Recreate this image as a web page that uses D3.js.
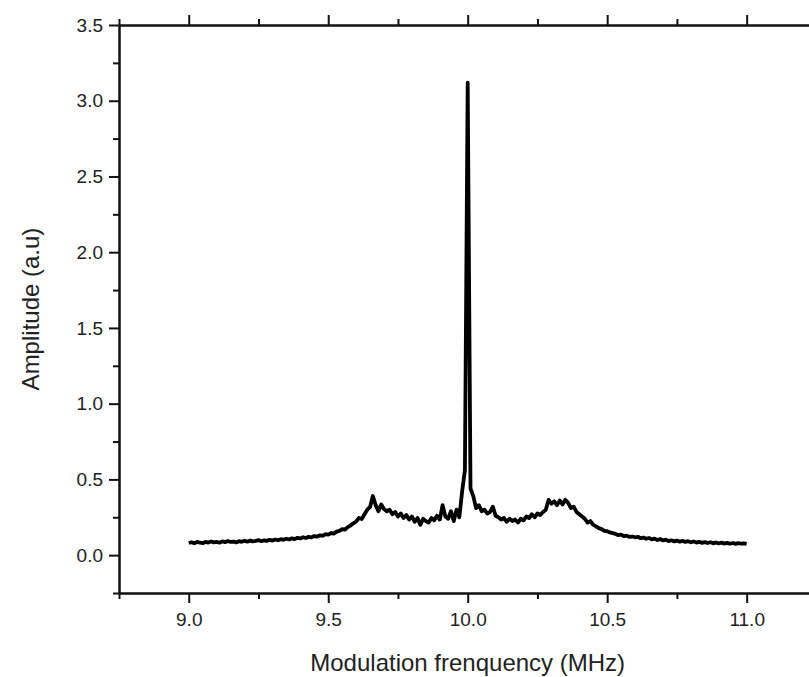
<!DOCTYPE html>
<html>
<head>
<meta charset="utf-8">
<script src="https://cdn.jsdelivr.net/npm/d3@7"></script>
<style>
  body { margin: 0; background: #fff; }
  svg { display: block; font-family: "Liberation Sans", Arial, sans-serif; }
</style>
</head>
<body>
<svg id="chart"></svg>
<script>
// spectrum sampled every 0.01 MHz from 9.00 to 11.00
const freqStart = 9.0;
const freqStep = 0.01;
const amplitude = [
  0.080, 0.085, 0.078, 0.088, 0.082, 0.079, 0.087, 0.083, 0.090, 0.084,
  0.088, 0.082, 0.091, 0.086, 0.093, 0.087, 0.090, 0.084, 0.092, 0.088,
  0.095, 0.089, 0.097, 0.091, 0.094, 0.099, 0.092, 0.098, 0.094, 0.101,
  0.096, 0.103, 0.098, 0.105, 0.101, 0.108, 0.103, 0.111, 0.106, 0.114,
  0.110, 0.118, 0.113, 0.121, 0.117, 0.126, 0.122, 0.131, 0.128, 0.138,
  0.135, 0.146, 0.142, 0.155, 0.160, 0.172, 0.168, 0.185, 0.195, 0.210,
  0.222, 0.245, 0.238, 0.270, 0.300, 0.318, 0.390, 0.330, 0.290, 0.335,
  0.305, 0.290, 0.300, 0.270, 0.285, 0.255, 0.275, 0.245, 0.265, 0.235,
  0.255, 0.220, 0.245, 0.200, 0.240, 0.225, 0.215, 0.245, 0.230, 0.260,
  0.235, 0.330, 0.255, 0.240, 0.290, 0.225, 0.300, 0.250, 0.420, 0.560,
  3.120, 0.440, 0.390, 0.310, 0.330, 0.290, 0.300, 0.275, 0.285, 0.320,
  0.260, 0.250, 0.235, 0.245, 0.220, 0.240, 0.225, 0.235, 0.215, 0.240,
  0.230, 0.255, 0.245, 0.270, 0.250, 0.275, 0.265, 0.285, 0.300, 0.365,
  0.340, 0.355, 0.330, 0.360, 0.335, 0.365, 0.345, 0.310, 0.320, 0.285,
  0.270, 0.255, 0.240, 0.215, 0.225, 0.200, 0.190, 0.178, 0.172, 0.160,
  0.158, 0.150, 0.145, 0.140, 0.132, 0.136, 0.125, 0.128, 0.120, 0.123,
  0.118, 0.121, 0.112, 0.116, 0.108, 0.113, 0.104, 0.109, 0.100, 0.106,
  0.097, 0.102, 0.093, 0.098, 0.091, 0.096, 0.089, 0.094, 0.087, 0.092,
  0.085, 0.090, 0.083, 0.088, 0.081, 0.086, 0.080, 0.085, 0.078, 0.084,
  0.077, 0.083, 0.076, 0.081, 0.075, 0.080, 0.074, 0.079, 0.076, 0.078,
  0.075
];
const xTicks = [9.0, 9.5, 10.0, 10.5, 11.0];
const xMinor = [8.75, 9.25, 9.75, 10.25, 10.75, 11.25];
const yTicks = [0.0, 0.5, 1.0, 1.5, 2.0, 2.5, 3.0, 3.5];
const yMinor = [-0.25, 0.25, 0.75, 1.25, 1.75, 2.25, 2.75, 3.25];
const xTitle = "Modulation frenquency (MHz)";
const yTitle = "Amplitude (a.u)";

const width = 809, height = 677;
const margin = {top: 25, left: 119, bottom: 84};
const font = "Liberation Sans, Arial, sans-serif";

const data = amplitude.map((a, i) => ({f: freqStart + i * freqStep, a}));

const x = d3.scaleLinear().domain([8.75, 11.25]).range([margin.left, 816.4]);
const y = d3.scaleLinear().domain([-0.25, 3.5]).range([height - margin.bottom, margin.top]);

const svg = d3.select("#chart")
  .attr("width", width)
  .attr("height", height)
  .attr("viewBox", [0, 0, width, height]);

svg.append("rect").attr("width", width).attr("height", height).attr("fill", "#fff");

// curve
svg.append("path")
  .datum(data)
  .attr("fill", "none")
  .attr("stroke", "#000")
  .attr("stroke-width", 3.8)
  .attr("stroke-linejoin", "round")
  .attr("d", d3.line().x(d => x(d.f)).y(d => y(d.a)));

const fmt = d3.format(".1f");

function styleAxis(g) {
  g.attr("font-family", font).attr("font-size", 19);
  g.select(".domain").attr("stroke", "#111").attr("stroke-width", 2);
  g.selectAll(".tick line").attr("stroke", "#111").attr("stroke-width", 2);
  g.selectAll(".tick text").attr("fill", "#222");
}

// bottom axis
svg.append("g")
  .attr("transform", `translate(0,${y(-0.25)})`)
  .call(d3.axisBottom(x).tickValues(xTicks).tickFormat(fmt).tickSize(10).tickSizeOuter(0).tickPadding(10))
  .call(styleAxis);
svg.append("g")
  .attr("transform", `translate(0,${y(-0.25)})`)
  .call(d3.axisBottom(x).tickValues(xMinor).tickFormat("").tickSize(6).tickSizeOuter(0))
  .call(styleAxis);

// top axis
svg.append("g")
  .attr("transform", `translate(0,${y(3.5)})`)
  .call(d3.axisTop(x).tickValues(xTicks).tickFormat("").tickSize(10).tickSizeOuter(0))
  .call(styleAxis);
svg.append("g")
  .attr("transform", `translate(0,${y(3.5)})`)
  .call(d3.axisTop(x).tickValues(xMinor).tickFormat("").tickSize(6).tickSizeOuter(0))
  .call(styleAxis);

// left axis
svg.append("g")
  .attr("transform", `translate(${x(8.75)},0)`)
  .call(d3.axisLeft(y).tickValues(yTicks).tickFormat(fmt).tickSize(10).tickSizeOuter(0).tickPadding(6))
  .call(styleAxis);
svg.append("g")
  .attr("transform", `translate(${x(8.75)},0)`)
  .call(d3.axisLeft(y).tickValues(yMinor).tickFormat("").tickSize(6).tickSizeOuter(0))
  .call(styleAxis);

// right axis (falls just outside the picture)
svg.append("g")
  .attr("transform", `translate(${x(11.25)},0)`)
  .call(d3.axisRight(y).tickValues(yTicks).tickFormat("").tickSize(10).tickSizeOuter(0))
  .call(styleAxis);

// titles
svg.append("text")
  .attr("x", (x(8.75) + x(11.25)) / 2)
  .attr("y", 671)
  .attr("text-anchor", "middle")
  .attr("font-family", font)
  .attr("font-size", 24)
  .attr("fill", "#222")
  .text(xTitle);

svg.append("text")
  .attr("transform", `translate(39,${(y(-0.25) + y(3.5)) / 2}) rotate(-90)`)
  .attr("text-anchor", "middle")
  .attr("font-family", font)
  .attr("font-size", 24)
  .attr("fill", "#222")
  .text(yTitle);
</script>
</body>
</html>
